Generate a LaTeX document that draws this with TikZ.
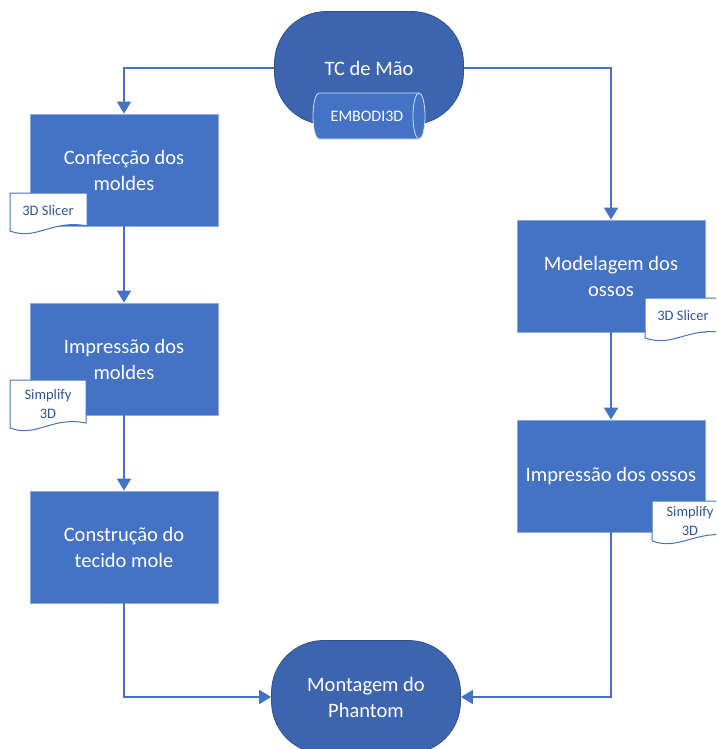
\documentclass[tikz,border=0pt]{standalone}
\usepackage{fontspec}
\setmainfont{Carlito}
\usetikzlibrary{arrows.meta,calc}
\definecolor{boxblue}{HTML}{4472C4}
\definecolor{boxedge}{HTML}{8FAADC}
\definecolor{termblue}{HTML}{3D64AF}
\definecolor{termedge}{HTML}{2F528F}
\definecolor{doctext}{HTML}{2F5597}
\tikzset{
  procbox/.style={draw=boxedge, fill=boxblue, line width=0.8pt, text=white,
    minimum width=188, minimum height=112, align=center,
    font=\fontsize{20.5}{26}\selectfont},
  termbox/.style={draw=termedge, fill=termblue, line width=0.8pt, text=white,
    rounded corners=52, minimum width=189, minimum height=113, align=center,
    font=\fontsize{20.5}{26}\selectfont},
  docbox/.style={text=doctext, align=center, inner sep=0pt,
    font=\fontsize{14.5}{19}\selectfont},
  docline/.style={draw=boxblue, fill=white, line width=1pt},
  flow/.style={draw=boxblue, line width=1.8pt,
    -{Triangle[width=14pt,length=12pt]}}
}
\begin{document}
\begin{tikzpicture}[x=1pt, y=-1pt]
\useasboundingbox (0,0) rectangle (716,749);
\clip (0,0) rectangle (716,749);
% terminators
\node[termbox] (tc) at (369,68) {TC de M\~ao};
\node[termbox] (mont) at (366,697) {Montagem do\\Phantom};
% cylinder
\coordinate (cyl) at (369,116);
\draw[draw=white!75!boxblue, fill=boxblue, line width=0.8pt]
  ($(cyl)+(-50,-23)$) -- ($(cyl)+(50,-23)$)
  arc[start angle=-90, end angle=90, x radius=6, y radius=23]
  -- ($(cyl)+(-50,23)$)
  arc[start angle=90, end angle=270, x radius=6, y radius=23] -- cycle;
\draw[draw=white!75!boxblue, line width=0.8pt] ($(cyl)+(50,-23)$)
  arc[start angle=-90, end angle=-270, x radius=6, y radius=23];
\node[text=white, font=\fontsize{16}{18}\selectfont] (emb) at (367,116) {EMBODI3D};
% process boxes
\node[procbox] (conf) at (124,170) {Confec\c{c}\~ao dos\\moldes};
\node[procbox] (imp1) at (124,359) {Impress\~ao dos\\moldes};
\node[procbox] (tec) at (124,547) {Constru\c{c}\~ao do\\tecido mole};
\node[procbox] (mod) at (611,276) {Modelagem dos\\ossos};
\node[procbox] (imp2) at (611,476) {Impress\~ao dos ossos};
% documents
\coordinate (da) at (10,193);
\coordinate (db) at (10,380);
\coordinate (dc) at (645,298);
\coordinate (dd) at (652,501);
\foreach \p/\w/\h in {da/77/40, db/76/50, dc/80/42, dd/80/42}{
  \draw[docline] (\p) -- ++(\w,0) -- ++(0,\h-7)
    .. controls ($(\p)+(0.55*\w,\h-14)$) and ($(\p)+(0.35*\w,\h+8)$)
    .. ($(\p)+(0,\h-2)$) -- cycle;
}
\node[docbox] (sl1) at (48,211) {3D Slicer};
\node[docbox] (si1) at (48,404) {Simplify\\3D};
\node[docbox] (sl2) at (683,316) {3D Slicer};
\node[docbox] (si2) at (690,521) {Simplify\\3D};
% connectors
\draw[flow] (tc.west) -| (conf.north);
\draw[flow] (tc.east) -| (mod.north);
\draw[flow] (conf) -- (imp1);
\draw[flow] (imp1) -- (tec);
\draw[flow] (mod) -- (imp2);
\draw[flow] (tec.south) |- (mont.west);
\draw[flow] (imp2.south) |- (mont.east);
\end{tikzpicture}
\end{document}
